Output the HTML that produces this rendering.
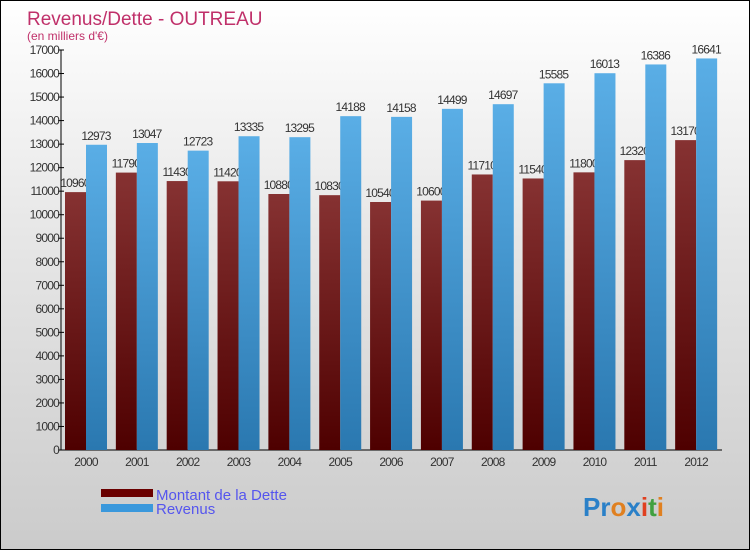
<!DOCTYPE html>
<html><head><meta charset="utf-8"><style>
body{margin:0;width:750px;height:550px;overflow:hidden;font-family:"Liberation Sans",sans-serif}
#wrap{position:relative;width:748px;height:548px;border:1px solid #000;background:linear-gradient(#ffffff,#e8e8e8 40%,#cbcbcb)}
svg text{font-family:"Liberation Sans",sans-serif}
</style></head><body>
<div id="wrap">
<svg id="chart" width="748" height="548">
<defs>
<linearGradient id="gd" x1="0" y1="0" x2="0" y2="1"><stop offset="0" stop-color="#863232"/><stop offset="1" stop-color="#4e0000"/></linearGradient>
<linearGradient id="gr" x1="0" y1="0" x2="0" y2="1"><stop offset="0" stop-color="#5aaee6"/><stop offset="1" stop-color="#2a78b0"/></linearGradient>
</defs>
<text x="26" y="24" font-size="19" fill="#c0306a">Revenus/Dette - OUTREAU</text>
<text x="26" y="39" font-size="12" fill="#c0306a">(en milliers d'€)</text>
<g id="ax"></g><g id="bars"></g>
<rect x="100" y="488" width="52" height="8" fill="#6a0000"/>
<rect x="100" y="503" width="52" height="8" fill="#3a98dc"/>
<text x="155" y="499" font-size="15" fill="#5555ee">Montant de la Dette</text>
<text x="155" y="513" font-size="15" fill="#5555ee">Revenus</text>
<text x="582" y="515" font-size="26" font-weight="bold"><tspan fill="#2a80c8">Pr</tspan><tspan fill="#e08020">o</tspan><tspan fill="#2a80c8">x</tspan><tspan fill="#e04020">i</tspan><tspan fill="#40a040">t</tspan><tspan fill="#e08020">i</tspan></text>
</svg></div>
<script>
const years=["2000","2001","2002","2003","2004","2005","2006","2007","2008","2009","2010","2011","2012"];
const dette=[10960,11790,11430,11420,10880,10830,10540,10600,11710,11540,11800,12320,13170];
const revenus=[12973,13047,12723,13335,13295,14188,14158,14499,14697,15585,16013,16386,16641];
const yTicks=[0,1000,2000,3000,4000,5000,6000,7000,8000,9000,10000,11000,12000,13000,14000,15000,16000,17000];
const NS="http://www.w3.org/2000/svg";
const x0=60,x1=721,y0=449,yMax=17000,ph=400;
const y=v=>y0-v/yMax*ph;
const gw=(x1-x0)/years.length;
function mk(t,a,p){const e=document.createElementNS(NS,t);for(const k in a)e.setAttribute(k,a[k]);p.appendChild(e);return e;}
const ax=document.getElementById('ax'),bars=document.getElementById('bars');
const yl=mk('line',{x1:x0,y1:y(yMax),x2:x0,y2:y0,stroke:'#000'},ax);


const xl=mk('line',{x1:x0,y1:y0,x2:x1,y2:y0,stroke:'#000'},ax);


yTicks.forEach(v=>{
 mk('line',{x1:x0-3,y1:y(v),x2:x0+3,y2:y(v),stroke:'#000'},ax);
 const t=mk('text',{x:x0-2,y:y(v)+4,'font-size':12,'text-anchor':'end',fill:'#333','letter-spacing':'-0.8'},ax);
 t.textContent=v;
 
 
});
years.forEach((yr,i)=>{
 const gx=x0+gw*i+4;
 const bd=mk('rect',{x:gx,y:y(dette[i]),width:21,height:y0-y(dette[i]),fill:'url(#gd)'},bars);
 
 
 const td=mk('text',{x:gx+10,y:y(dette[i])-5,'font-size':12,'text-anchor':'middle',fill:'#333','letter-spacing':'-0.8'},bars);
 td.textContent=dette[i];
 
 
 const br=mk('rect',{x:gx+21,y:y(revenus[i]),width:21,height:y0-y(revenus[i]),fill:'url(#gr)'},bars);
 
 
 const tr=mk('text',{x:gx+31,y:y(revenus[i])-5,'font-size':12,'text-anchor':'middle',fill:'#333','letter-spacing':'-0.8'},bars);
 tr.textContent=revenus[i];
 
 
 const tx=mk('text',{x:gx+21,y:y0+16,'font-size':12,'text-anchor':'middle',fill:'#333','letter-spacing':'-0.8'},ax);
 tx.textContent=yr;
 
 
});
</script>
</body></html>
